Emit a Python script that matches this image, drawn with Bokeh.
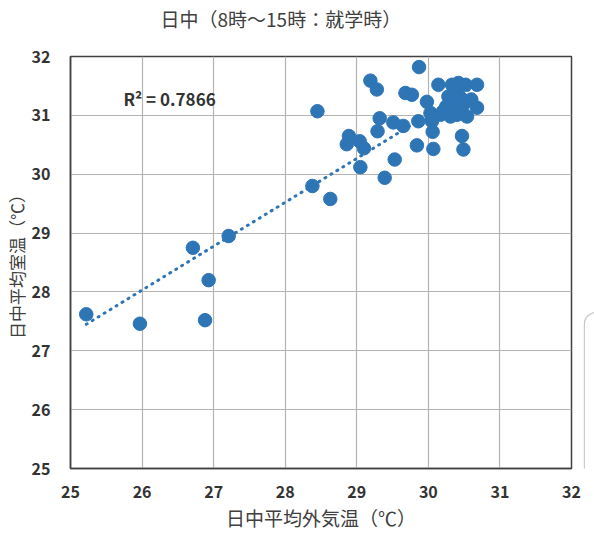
import numpy as np
from bokeh.plotting import figure
from bokeh.layouts import row
from bokeh.models import Range1d, FixedTicker, Label, BoxAnnotation, Title
from bokeh.embed import file_html
from bokeh.resources import INLINE

# 日中平均外気温 (x) and 日中平均室温 (y)
outdoor = [25.22, 25.97, 26.88, 26.93, 26.71, 27.21, 28.38, 28.63, 28.45, 28.89,
           28.86, 29.04, 29.10, 29.05, 29.39, 29.19, 29.28, 29.29, 29.32, 29.53,
           29.51, 29.65, 29.68, 29.77, 29.87, 29.84, 29.86, 29.98, 30.03, 30.05,
           30.06, 30.07, 30.14, 30.33, 30.42, 30.52, 30.68, 30.28, 30.60, 30.35,
           30.49, 30.68, 30.21, 30.31, 30.54, 30.40, 30.17, 30.47, 30.49, 30.05,
           30.25, 30.45, 30.38]
indoor = [27.62, 27.46, 27.52, 28.20, 28.75, 28.95, 29.80, 29.58, 31.07, 30.65,
          30.51, 30.56, 30.44, 30.12, 29.94, 31.59, 31.44, 30.73, 30.95, 30.25,
          30.88, 30.82, 31.38, 31.35, 31.82, 30.49, 30.90, 31.23, 31.04, 30.90,
          30.72, 30.43, 31.52, 31.52, 31.55, 31.52, 31.52, 31.32, 31.27, 31.18,
          31.18, 31.13, 31.07, 30.98, 30.98, 31.01, 31.01, 30.65, 30.42, 30.98,
          31.15, 31.30, 31.40]
x_ticks = [25, 26, 27, 28, 29, 30, 31, 32]
y_ticks = [25, 26, 27, 28, 29, 30, 31, 32]
title_text = "日中（8時～15時：就学時）"
x_label = "日中平均外気温（℃）"
y_label = "日中平均室温（℃）"
r2_text = "R² = 0.7866"

BLUE = "#2E75B6"
FONT = "Noto Sans CJK JP"

p = figure(width=583, height=533, output_backend="svg", toolbar_location=None,
           x_range=Range1d(25, 32), y_range=Range1d(25, 32),
           min_border_left=70, min_border_right=12, min_border_top=55,
           min_border_bottom=64)

p.title.text = title_text
p.title.text_font = FONT
p.title.text_font_size = "19px"
p.title.text_font_style = "normal"
p.title.text_color = "#404040"
p.title.align = "left"
p.title.offset = 90
p.title.standoff = 4

# empty spacer panel between the frame and the title
p.above = [Title(text=" ", text_font_size="10px", standoff=10)]

p.outline_line_color = "#404040"
p.outline_line_width = 1.5

for ax, ticks in ((p.xaxis[0], x_ticks), (p.yaxis[0], y_ticks)):
    ax.ticker = FixedTicker(ticks=ticks)
    ax.major_tick_line_color = None
    ax.minor_tick_line_color = None
    ax.axis_line_color = "#404040"
    ax.axis_line_width = 1.5
    ax.major_label_text_font = FONT
    ax.major_label_text_font_size = "16px"
    ax.major_label_text_font_style = "bold"
    ax.major_label_text_color = "#333333"
    ax.axis_label_text_font = FONT
    ax.axis_label_text_font_style = "normal"
    ax.axis_label_text_color = "#404040"

p.xaxis.axis_label = x_label
p.yaxis.axis_label = y_label
p.xaxis.axis_label_text_font_size = "19px"
p.yaxis.axis_label_text_font_size = "17px"
p.xaxis.major_label_standoff = 11
p.xaxis.axis_label_standoff = 3
p.yaxis.major_label_standoff = 14
p.yaxis.axis_label_standoff = 0

p.grid.grid_line_color = "#b4b4b4"
p.grid.grid_line_width = 1.2

p.scatter(outdoor, indoor, size=13.5, fill_color=BLUE, line_color=BLUE)

# linear trend line from the data (drawn over the markers)
slope, intercept = np.polyfit(outdoor, indoor, 1)
xs = [min(outdoor), max(outdoor)]
ys = [slope * x + intercept for x in xs]
p.line(xs, ys, line_color=BLUE, line_width=3, line_dash="1 6", line_cap="round")

p.add_layout(Label(x=25.74, y=31.28, text=r2_text, text_font=FONT,
                   text_font_size="17px", text_font_style="bold",
                   text_color="#333333", text_baseline="middle"))

# partially visible rounded box at the right edge (narrow figure sharing the y scale)
side = figure(width=11, height=533, output_backend="svg", toolbar_location=None,
              x_range=Range1d(0, 11), y_range=p.y_range,
              min_border=0, x_axis_type=None, y_axis_type=None)
side.grid.visible = False
side.outline_line_color = None
side.add_layout(BoxAnnotation(left=0.8, right=60, top=27.65, bottom=24.82,
                              fill_color="white", fill_alpha=1.0,
                              line_color="#404040", line_width=1.2,
                              border_radius=12))

layout = row(p, side, spacing=0)
open("out.html", "w").write(file_html(layout, INLINE))
